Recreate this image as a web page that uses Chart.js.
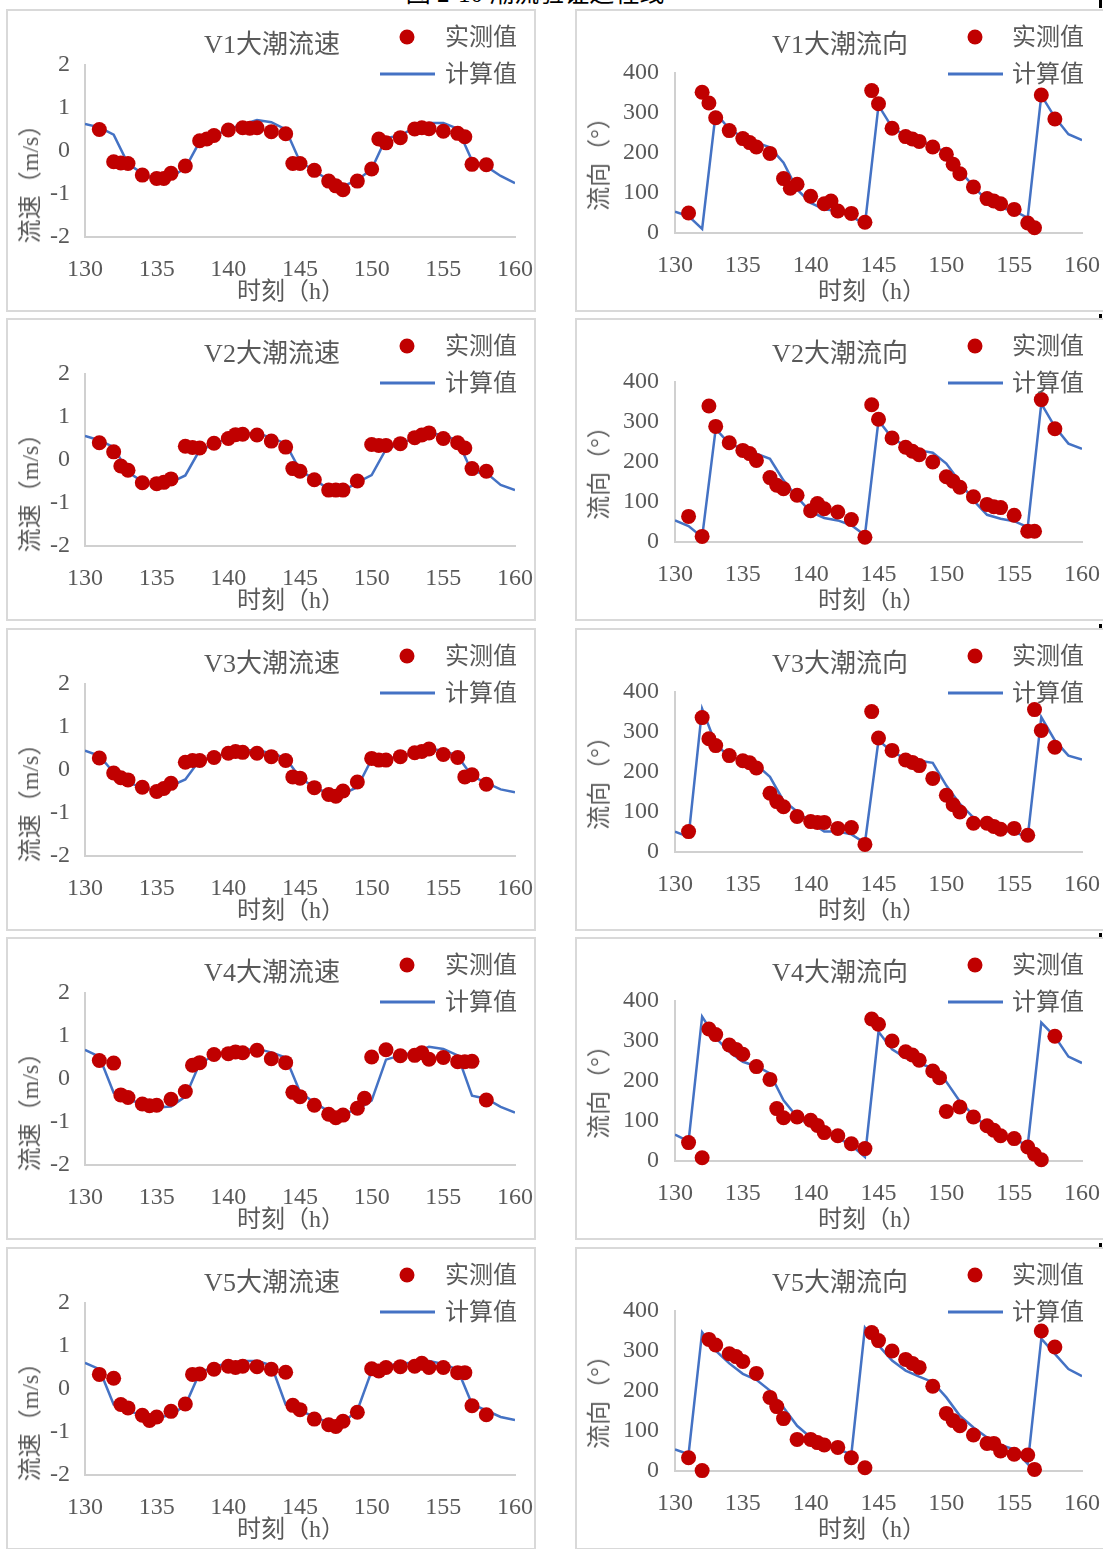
<!DOCTYPE html>
<html>
<head>
<meta charset="utf-8">
<script src="https://cdn.jsdelivr.net/npm/chart.js@4.4.1/dist/chart.umd.min.js"></script>
<style>
body{margin:0;width:1103px;height:1549px;overflow:hidden;background:#fff;position:relative;
	font-family:'Liberation Serif','Noto Sans CJK SC',serif;color:#595959;}
.box{position:absolute;border:2px solid #d9d9d9;box-sizing:border-box;}
canvas{position:absolute;}
.t{position:absolute;white-space:nowrap;line-height:1;transform:translate(-50%,-50%);}
.l{position:absolute;white-space:nowrap;line-height:1;transform:translateY(-50%);font-size:24px;}
.dot{position:absolute;width:15px;height:15px;border-radius:50%;background:#C00000;transform:translate(-50%,-50%);}
.ln{position:absolute;height:3px;background:#4472C4;transform:translateY(-50%);}
.mark{position:absolute;background:#000;}
</style>
</head>
<body>
<script>
// 计算值的时刻 (h)
var hours = [130,131,132,133,134,135,136,137,138,139,140,141,142,143,144,145,146,147,148,149,150,151,152,153,154,155,156,157,158,159,160];

// 实测值的时刻
var timesV1 = [131,132,132.5,133,134,135,135.5,136,137,138,138.5,139,140,141,141.5,142,143,144,144.5,145,146,147,147.5,148,149,150,150.5,151,152,153,153.5,154,155,156,156.5,157,158];
var timesV23 = [131,132,132.5,133,134,135,135.5,136,137,137.5,138,139,140,140.5,141,142,143,144,144.5,145,146,147,147.5,148,149,150,150.5,151,152,153,153.5,154,155,156,156.5,157,158];
var timesV4 = [131,132,132.5,133,134,134.5,135,136,137,137.5,138,139,140,140.5,141,142,143,144,144.5,145,146,147,147.5,148,149,149.5,150,151,152,153,153.5,154,155,156,156.5,157,158];
var timesV5 = [131,132,132.5,133,134,134.5,135,136,137,137.5,138,139,140,140.5,141,142,143,144,144.5,145,146,147,147.5,148,149,150,150.5,151,152,153,153.5,154,155,156,156.5,157,158];

// 流速 (m/s)
var v1SpeedObs = [0.50,-0.25,-0.28,-0.29,-0.56,-0.64,-0.64,-0.52,-0.35,0.24,0.28,0.36,0.49,0.54,0.53,0.54,0.45,0.40,-0.29,-0.29,-0.45,-0.70,-0.81,-0.90,-0.70,-0.42,0.28,0.19,0.31,0.51,0.54,0.52,0.46,0.41,0.33,-0.31,-0.32];
var v1SpeedCalc = [0.63,0.55,0.38,-0.30,-0.52,-0.68,-0.60,-0.40,0.22,0.36,0.50,0.62,0.72,0.67,0.50,-0.25,-0.46,-0.68,-0.82,-0.68,-0.42,0.30,0.36,0.55,0.65,0.65,0.52,-0.22,-0.36,-0.58,-0.75];
var v2SpeedObs = [0.40,0.19,-0.14,-0.24,-0.53,-0.55,-0.52,-0.44,0.32,0.29,0.28,0.39,0.50,0.59,0.60,0.58,0.44,0.30,-0.20,-0.26,-0.46,-0.70,-0.70,-0.70,-0.49,0.36,0.34,0.34,0.38,0.52,0.58,0.63,0.50,0.40,0.28,-0.20,-0.26];
var v2SpeedCalc = [0.56,0.46,0.30,-0.28,-0.50,-0.59,-0.52,-0.36,0.23,0.36,0.52,0.62,0.62,0.52,0.38,-0.24,-0.45,-0.68,-0.72,-0.52,-0.35,0.25,0.38,0.52,0.62,0.58,0.45,-0.28,-0.30,-0.58,-0.70];
var v3SpeedObs = [0.28,-0.07,-0.18,-0.23,-0.40,-0.50,-0.43,-0.31,0.18,0.22,0.22,0.29,0.39,0.43,0.41,0.39,0.31,0.22,-0.16,-0.19,-0.41,-0.57,-0.61,-0.49,-0.28,0.27,0.23,0.23,0.31,0.40,0.43,0.49,0.36,0.29,-0.16,-0.11,-0.33];
var v3SpeedCalc = [0.45,0.33,-0.06,-0.29,-0.41,-0.49,-0.37,-0.22,0.23,0.30,0.40,0.46,0.46,0.39,0.28,-0.18,-0.40,-0.55,-0.55,-0.40,0.25,0.27,0.31,0.42,0.48,0.46,0.32,-0.14,-0.30,-0.45,-0.52];
var v4SpeedObs = [0.43,0.37,-0.37,-0.43,-0.58,-0.62,-0.61,-0.47,-0.29,0.32,0.38,0.57,0.59,0.63,0.61,0.67,0.47,0.38,-0.31,-0.41,-0.61,-0.82,-0.90,-0.84,-0.68,-0.45,0.51,0.68,0.54,0.55,0.61,0.46,0.50,0.40,0.40,0.41,-0.49];
var v4SpeedCalc = [0.68,0.52,-0.32,-0.47,-0.58,-0.66,-0.64,-0.41,0.36,0.55,0.62,0.68,0.70,0.62,0.50,-0.30,-0.55,-0.75,-0.80,-0.72,-0.50,0.45,0.55,0.62,0.75,0.70,0.55,-0.39,-0.46,-0.65,-0.78];
var v5SpeedObs = [0.34,0.25,-0.36,-0.44,-0.61,-0.73,-0.65,-0.52,-0.35,0.34,0.35,0.46,0.53,0.50,0.53,0.52,0.46,0.39,-0.38,-0.48,-0.70,-0.83,-0.87,-0.75,-0.54,0.47,0.42,0.50,0.52,0.53,0.60,0.50,0.50,0.38,0.38,-0.39,-0.60];
var v5SpeedCalc = [0.61,0.46,-0.36,-0.50,-0.62,-0.68,-0.60,-0.38,0.38,0.52,0.60,0.65,0.65,0.55,-0.36,-0.50,-0.65,-0.78,-0.78,-0.50,0.42,0.55,0.58,0.62,0.65,0.58,0.45,-0.35,-0.50,-0.65,-0.72];

// 流向 (°)
var v1DirObs = [50,352,325,288,256,236,226,215,199,136,112,122,92,73,80,55,49,27,356,323,262,241,235,229,215,197,172,148,115,86,80,73,59,25,13,345,285];
var v1DirCalc = [53,42,10,300,260,239,226,214,176,109,75,59,55,42,21,319,264,243,231,218,201,155,117,80,63,55,38,344,289,247,232];
var v2DirObs = [64,14,340,289,248,229,221,204,161,142,133,117,78,96,83,75,56,12,343,307,260,237,227,218,200,163,152,137,113,94,88,86,67,27,27,356,283];
var v2DirCalc = [54,40,12,283,246,233,221,208,154,112,75,60,54,42,17,304,260,240,229,223,196,150,104,68,58,52,37,346,288,246,233];
var v3DirObs = [51,336,283,266,241,228,223,210,147,126,113,89,76,74,74,59,61,19,351,285,254,230,224,216,184,142,118,100,72,72,64,57,59,42,356,304,262];
var v3DirCalc = [51,38,358,270,238,230,218,188,128,101,74,51,51,44,23,279,251,233,228,223,166,120,86,65,55,49,38,337,279,241,231];
var v4DirObs = [46,8,330,316,290,279,267,236,204,131,108,110,102,89,71,63,43,31,355,342,300,273,265,252,225,208,124,135,110,88,77,63,56,35,17,3,312];
var v4DirCalc = [66,49,361,308,273,248,237,219,152,110,89,71,58,39,10,323,279,258,244,232,198,149,114,85,66,54,39,346,311,261,245];
var v5DirObs = [33,1,329,315,293,286,274,244,184,161,131,79,79,71,65,59,33,8,346,326,300,279,269,259,212,144,126,113,90,69,69,50,42,40,4,350,310];
var v5DirCalc = [54,42,347,301,269,243,228,201,159,113,84,67,54,42,358,314,276,251,236,222,184,138,109,84,65,54,18,331,293,255,237];

var stations = ['V1','V2','V3','V4','V5'];
var obsTimes = [timesV1, timesV23, timesV23, timesV4, timesV5];
var speedObs = [v1SpeedObs, v2SpeedObs, v3SpeedObs, v4SpeedObs, v5SpeedObs];
var speedCalc = [v1SpeedCalc, v2SpeedCalc, v3SpeedCalc, v4SpeedCalc, v5SpeedCalc];
var dirObs = [v1DirObs, v2DirObs, v3DirObs, v4DirObs, v5DirObs];
var dirCalc = [v1DirCalc, v2DirCalc, v3DirCalc, v4DirCalc, v5DirCalc];

var rowTops = [9, 318, 628, 937, 1247];
var FONT = "'Liberation Serif','Noto Sans CJK SC',serif";

function add(cls, css, text){
	var d = document.createElement('div');
	d.className = cls;
	for(var k in css) d.style[k] = css[k];
	if(text) d.textContent = text;
	document.body.appendChild(d);
	return d;
}

function makeChart(left, top, isSpeed, t, obs, calc){
	// chart area inside the canvas; right side keeps room for the last tick label
	var a = isSpeed ? {l:79, t:56, r:509, b:228} : {l:100, t:64, r:507, b:224};
	var padR = 40;
	var w = a.r + padR, h = 303;
	var cv = document.createElement('canvas');
	cv.width = w; cv.height = h;
	cv.style.left = left + 'px'; cv.style.top = top + 'px';
	cv.style.width = w + 'px'; cv.style.height = h + 'px';
	document.body.appendChild(cv);
	var tickFont = {family: FONT, size: 24};
	new Chart(cv.getContext('2d'), {
		type: 'scatter',
		data: {
			datasets: [{
				label: '实测值',
				data: t.map(function(x, i){ return {x: x, y: obs[i]}; }),
				backgroundColor: '#C00000',
				borderWidth: 0,
				pointRadius: 7.5,
				pointHoverRadius: 7.5,
				clip: false,
				order: 0
			}, {
				type: 'line',
				label: '计算值',
				data: hours.map(function(x, i){ return {x: x, y: calc[i]}; }),
				borderColor: '#4472C4',
				borderWidth: 2.5,
				pointRadius: 0,
				tension: 0,
				fill: false,
				order: 1
			}]
		},
		options: {
			responsive: false,
			animation: false,
			devicePixelRatio: 1,
			events: [],
			layout: {padding: {left: 0, top: a.t, right: padR, bottom: 0}},
			plugins: {legend: {display: false}, title: {display: false}, tooltip: {enabled: false}},
			scales: {
				x: {
					type: 'linear', min: 130, max: 160,
					grid: {display: false, drawTicks: false},
					border: {color: '#d0d0d0', width: 2},
					ticks: {stepSize: 5, padding: 18, maxRotation: 0, color: '#595959', font: tickFont},
					afterFit: function(s){ s.height = h - a.b; }
				},
				y: {
					type: 'linear',
					min: isSpeed ? -2 : 0, max: isSpeed ? 2 : 400,
					grid: {display: false, drawTicks: false},
					border: {color: '#d0d0d0', width: 2},
					ticks: {stepSize: isSpeed ? 1 : 100, padding: isSpeed ? 15 : 16, color: '#595959', font: tickFont},
					afterFit: function(s){ s.width = a.l; }
				}
			}
		}
	});
}

// 图题 (只露出下边一点)
add('t', {left: '535px', top: '-7px', fontSize: '25px', color: '#000'}, '图 2-10 潮流验证过程线');
add('mark', {left: '1099px', top: '0px', width: '3px', height: '8px'});

for(var i = 0; i < stations.length; i++){
	var T = rowTops[i];
	var st = stations[i];

	// 流速
	add('box', {left: '6px', top: T + 'px', width: '530px', height: '303px'});
	makeChart(6, T, true, obsTimes[i], speedObs[i], speedCalc[i]);
	add('t', {left: '272px', top: (T + 36) + 'px', fontSize: '26px'}, st + '大潮流速');
	add('dot', {left: '407px', top: (T + 28) + 'px'});
	add('ln', {left: '380px', top: (T + 65) + 'px', width: '55px'});
	add('l', {left: '445px', top: (T + 28) + 'px'}, '实测值');
	add('l', {left: '445px', top: (T + 65) + 'px'}, '计算值');
	add('t', {left: '30px', top: (T + 169) + 'px', fontSize: '24px', transform: 'translate(-50%,-50%) rotate(-90deg)'}, '流速（m/s）');
	add('t', {left: '291px', top: (T + 282) + 'px', fontSize: '24px'}, '时刻（h）');

	// 流向
	add('box', {left: '575px', top: T + 'px', width: '540px', height: '303px'});
	makeChart(575, T, false, obsTimes[i], dirObs[i], dirCalc[i]);
	add('t', {left: '840px', top: (T + 36) + 'px', fontSize: '26px'}, st + '大潮流向');
	add('dot', {left: '975px', top: (T + 28) + 'px'});
	add('ln', {left: '948px', top: (T + 65) + 'px', width: '55px'});
	add('l', {left: '1012px', top: (T + 28) + 'px'}, '实测值');
	add('l', {left: '1012px', top: (T + 65) + 'px'}, '计算值');
	add('t', {left: '599px', top: (T + 149) + 'px', fontSize: '24px', transform: 'translate(-50%,-50%) rotate(-90deg)'}, '流向（°）');
	add('t', {left: '872px', top: (T + 282) + 'px', fontSize: '24px'}, '时刻（h）');

	if(i > 0) add('mark', {left: '1099px', top: (T - 4) + 'px', width: '3px', height: '4px'});
}
</script>
</body>
</html>
